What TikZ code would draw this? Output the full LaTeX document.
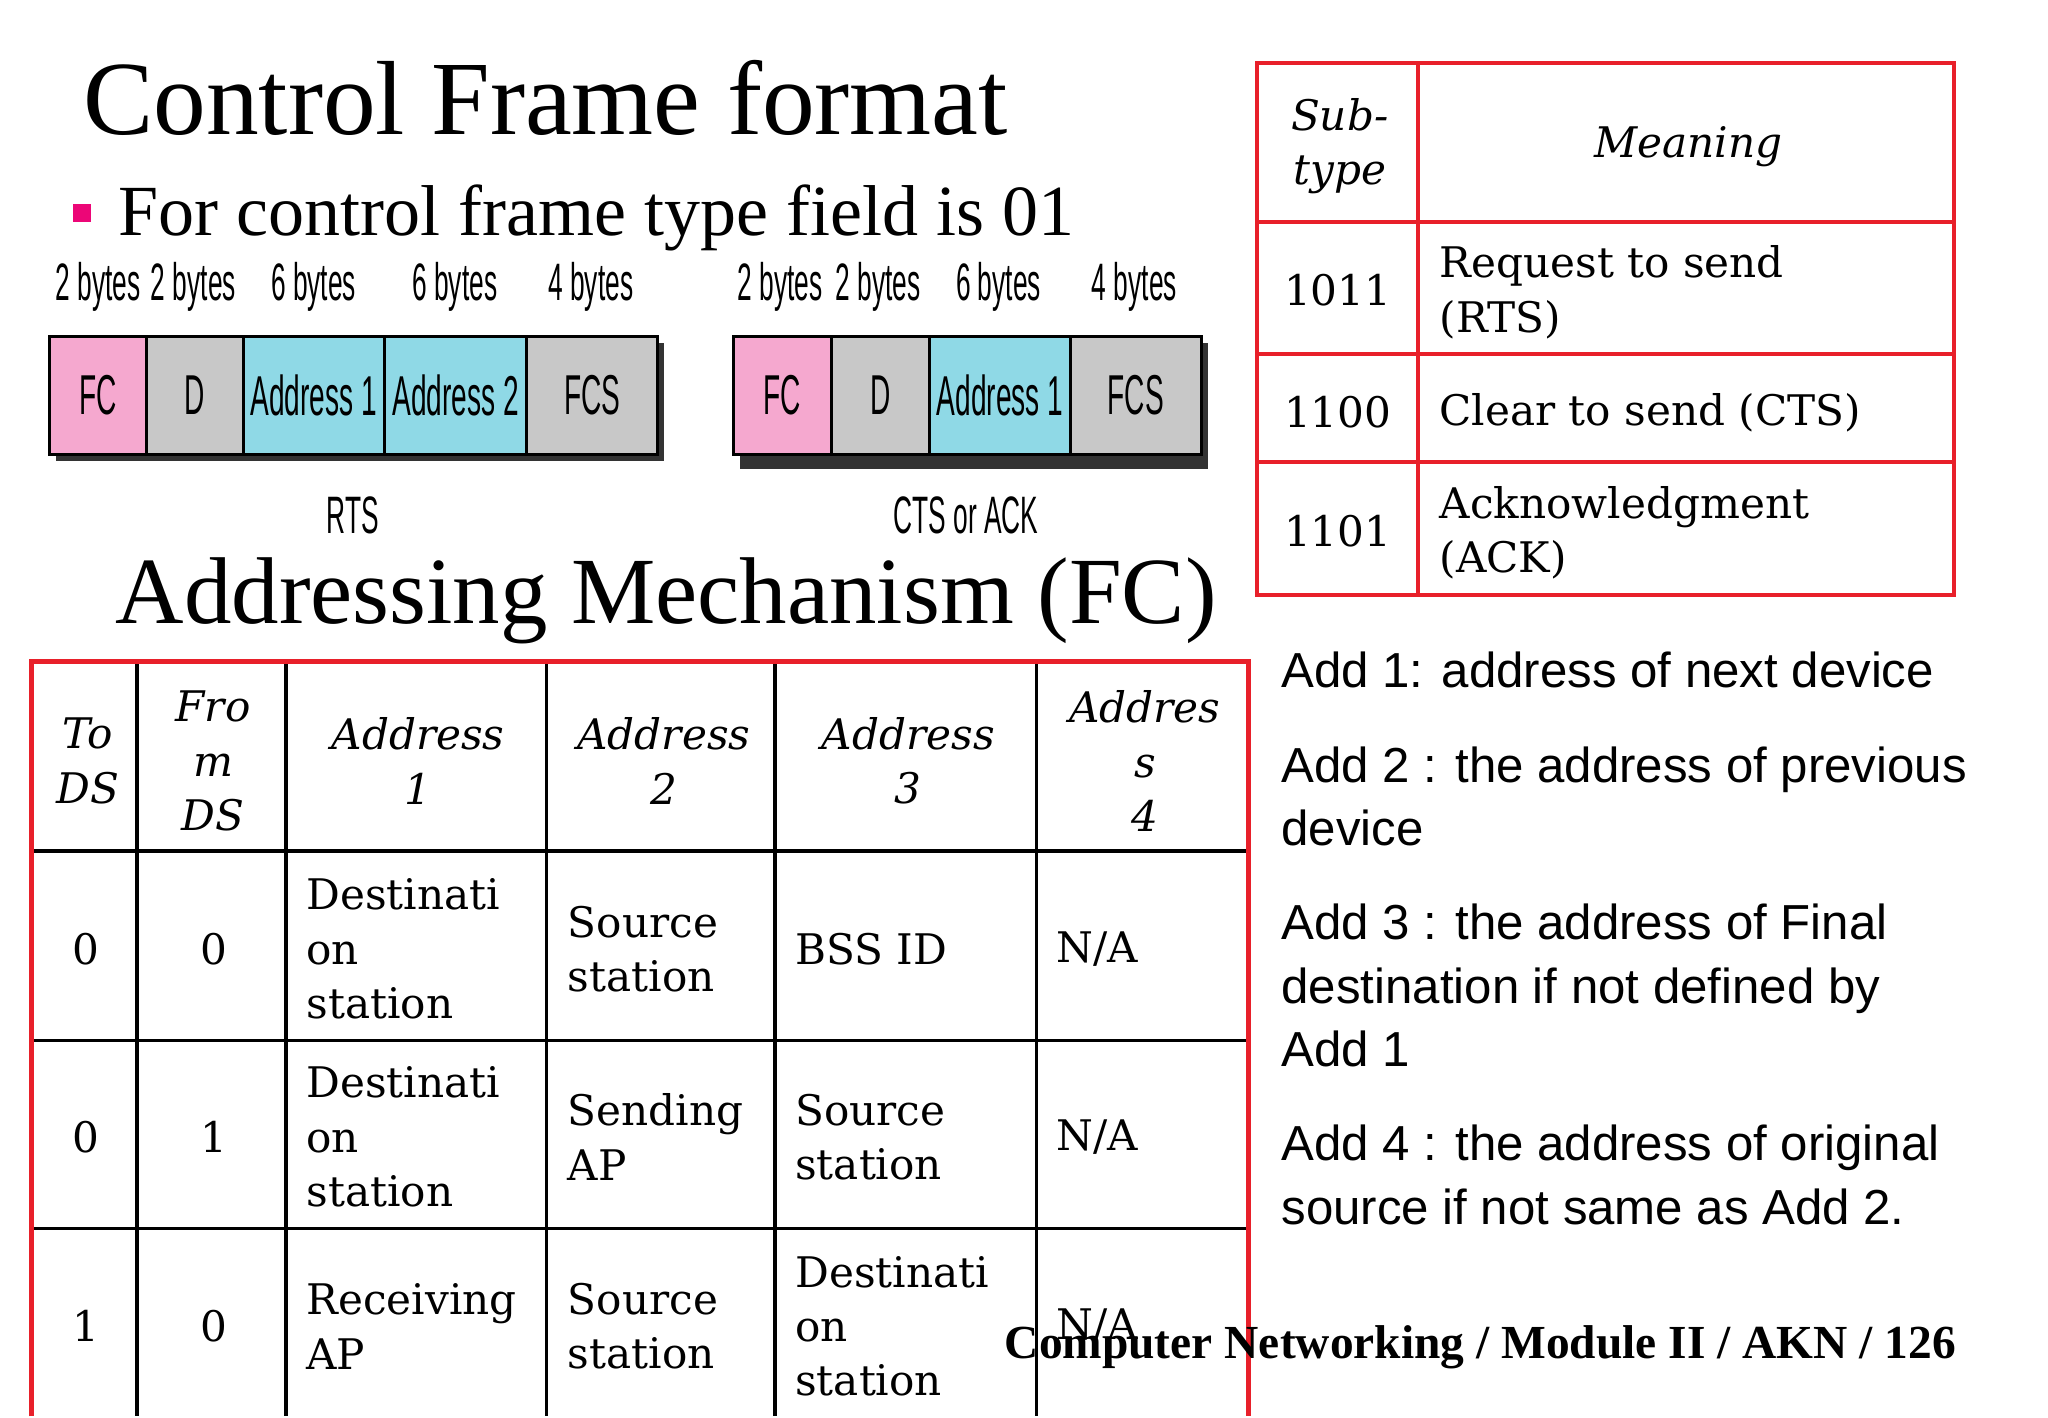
\documentclass[tikz,border=0pt]{standalone}
\usepackage{fontspec}
\setmainfont{Liberation Serif}
\newfontfamily\narr[FakeStretch=0.5]{Liberation Sans}
\newfontfamily\tser{DejaVu Serif}
\newfontfamily\tsans{Liberation Sans}
\definecolor{fcpink}{HTML}{F5A8CF}
\definecolor{dgrey}{HTML}{C8C8C8}
\definecolor{acyan}{HTML}{8FD9E6}
\definecolor{tred}{HTML}{E8202A}
\begin{document}
\begin{tikzpicture}[x=0.01307cm,y=-0.013057cm,
  fld/.style={draw=black,line width=0.8pt,minimum height=90*0.013057cm,inner sep=0pt,anchor=north west,font=\narr\fontsize{16}{16}\selectfont},
  byt/.style={font=\narr\fontsize{15}{15}\selectfont},
  cell/.style={font=\tser\fontsize{12}{15.5}\selectfont,align=left,anchor=west,inner sep=0pt},
  hcell/.style={font=\tser\itshape\fontsize{12}{15.5}\selectfont,align=center,inner sep=0pt},
  note/.style={font=\tsans\fontsize{14}{18}\selectfont,anchor=west,align=left,inner sep=0pt}]
\useasboundingbox (0,0) rectangle (1567,1086);
\node[anchor=west,font=\fontsize{30}{30}\selectfont,inner sep=0pt] (title) at (63,75) {Control Frame format};
\fill[fill=magenta!80!red] (56,156) rectangle (70,170);
\node[anchor=west,font=\fontsize{20.5}{20.5}\selectfont,inner sep=0pt] (sub) at (90,167) {For control frame type field is 01};
% RTS frame
\fill[black!80] (43,263) rectangle (508,353);
\foreach \a/\b/\c/\t/\n in {37/111/fcpink/FC/r1,111/185/dgrey/D/r2,185/293/acyan/Address 1/r3,293/402/acyan/Address 2/r4,402/502/dgrey/FCS/r5}{
  \node[fld,fill=\c,minimum width={(\b-\a)*0.01307cm}] (\n) at (\a,257) {\t};}
\node[byt] (b1) at (75,220) {2 bytes};
\node[byt] (b2) at (148,220) {2 bytes};
\node[byt] (b3) at (240,220) {6 bytes};
\node[byt] (b4) at (348,220) {6 bytes};
\node[byt] (b5) at (452,220) {4 bytes};
\node[byt] (rts) at (270,395) {RTS};
% CTS frame
\fill[black!80] (566,263) rectangle (924,359);
\foreach \a/\b/\c/\t/\n in {560/635/fcpink/FC/c1,635/710/dgrey/D/c2,710/818/acyan/Address 1/c3,818/918/dgrey/FCS/c4}{
  \node[fld,fill=\c,minimum width={(\b-\a)*0.01307cm}] (\n) at (\a,257) {\t};}
\node[byt] (cb1) at (597,220) {2 bytes};
\node[byt] (cb2) at (672,220) {2 bytes};
\node[byt] (cb3) at (764,220) {6 bytes};
\node[byt] (cb4) at (868,220) {4 bytes};
\node[byt] (cts) at (739,395) {CTS or ACK};
\node[anchor=west,font=\fontsize{27}{27}\selectfont,inner sep=0pt] (addr) at (88,460) {Addressing Mechanism (FC)};
% subtype table
\draw[tred,line width=1.2pt] (962,48) rectangle (1495,456);
\foreach \y in {170,271,354}{\draw[tred,line width=1.2pt] (962,\y) -- (1495,\y);}
\draw[tred,line width=1.2pt] (1085,48) -- (1085,456);
\node[hcell] (st) at (1025,112) {Sub-\\type};
\node[hcell] (mn) at (1292,112) {Meaning};
\node[cell] (s1) at (982,222) {1011};
\node[cell] (s2) at (982,316) {1100};
\node[cell] (s3) at (982,407) {1101};
\node[cell] (m1) at (1101,224) {Request to send\\(RTS)};
\node[cell] (m2) at (1101,316) {Clear to send (CTS)};
\node[cell] (m3) at (1101,408) {Acknowledgment\\(ACK)};
% notes
\node[note] (n1) at (980,513) {Add 1: address of next device};
\node[note] (n2) at (980,610) {Add 2 : the address of previous\\device};
\node[note] (n3) at (980,755) {Add 3 : the address of Final\\destination if not defined by\\Add 1};
\node[note] (n4) at (980,900) {Add 4 : the address of original\\source if not same as Add 2.};
% addressing table
\foreach \x in {105,219,418,593,793}{\draw[black,line width=1pt] (\x,507) -- (\x,1085);}
\foreach \y in {652,797,941}{\draw[black,line width=1pt] (24,\y) -- (955,\y);}
\draw[tred,line width=1.4pt] (24,1085) -- (24,507) -- (955,507) -- (955,1085);
\node[hcell] (h1) at (67,583) {To\\DS};
\node[hcell] (h2) at (163,583) {Fro\\m\\DS};
\node[hcell] (h3) at (320,583) {Address\\1};
\node[hcell] (h4) at (508,583) {Address\\2};
\node[hcell] (h5) at (695,583) {Address\\3};
\node[hcell] (h6) at (876,583) {Addres\\s\\4};
\foreach \r/\y/\a/\b in {1/727/0/0,2/871/0/1,3/1016/1/0}{
  \node[cell] (t\r) at (55,\y) {\a};
  \node[cell] (f\r) at (153,\y) {\b};
  \node[cell] (na\r) at (808,\y) {N/A};}
\node[cell] (d1) at (234,727) {Destinati\\on\\station};
\node[cell] (d2) at (234,871) {Destinati\\on\\station};
\node[cell] (d3) at (234,1016) {Receiving\\AP};
\node[cell] (e1) at (434,727) {Source\\station};
\node[cell] (e2) at (434,871) {Sending\\AP};
\node[cell] (e3) at (434,1016) {Source\\station};
\node[cell] (g1) at (608,727) {BSS ID};
\node[cell] (g2) at (608,871) {Source\\station};
\node[cell] (g3) at (608,1016) {Destinati\\on\\station};
\node[anchor=east,font=\bfseries\fontsize{13.5}{13.5}\selectfont,inner sep=0pt] (foot) at (1497,1032) {Computer Networking / Module II / AKN / 126};
\end{tikzpicture}
\end{document}
